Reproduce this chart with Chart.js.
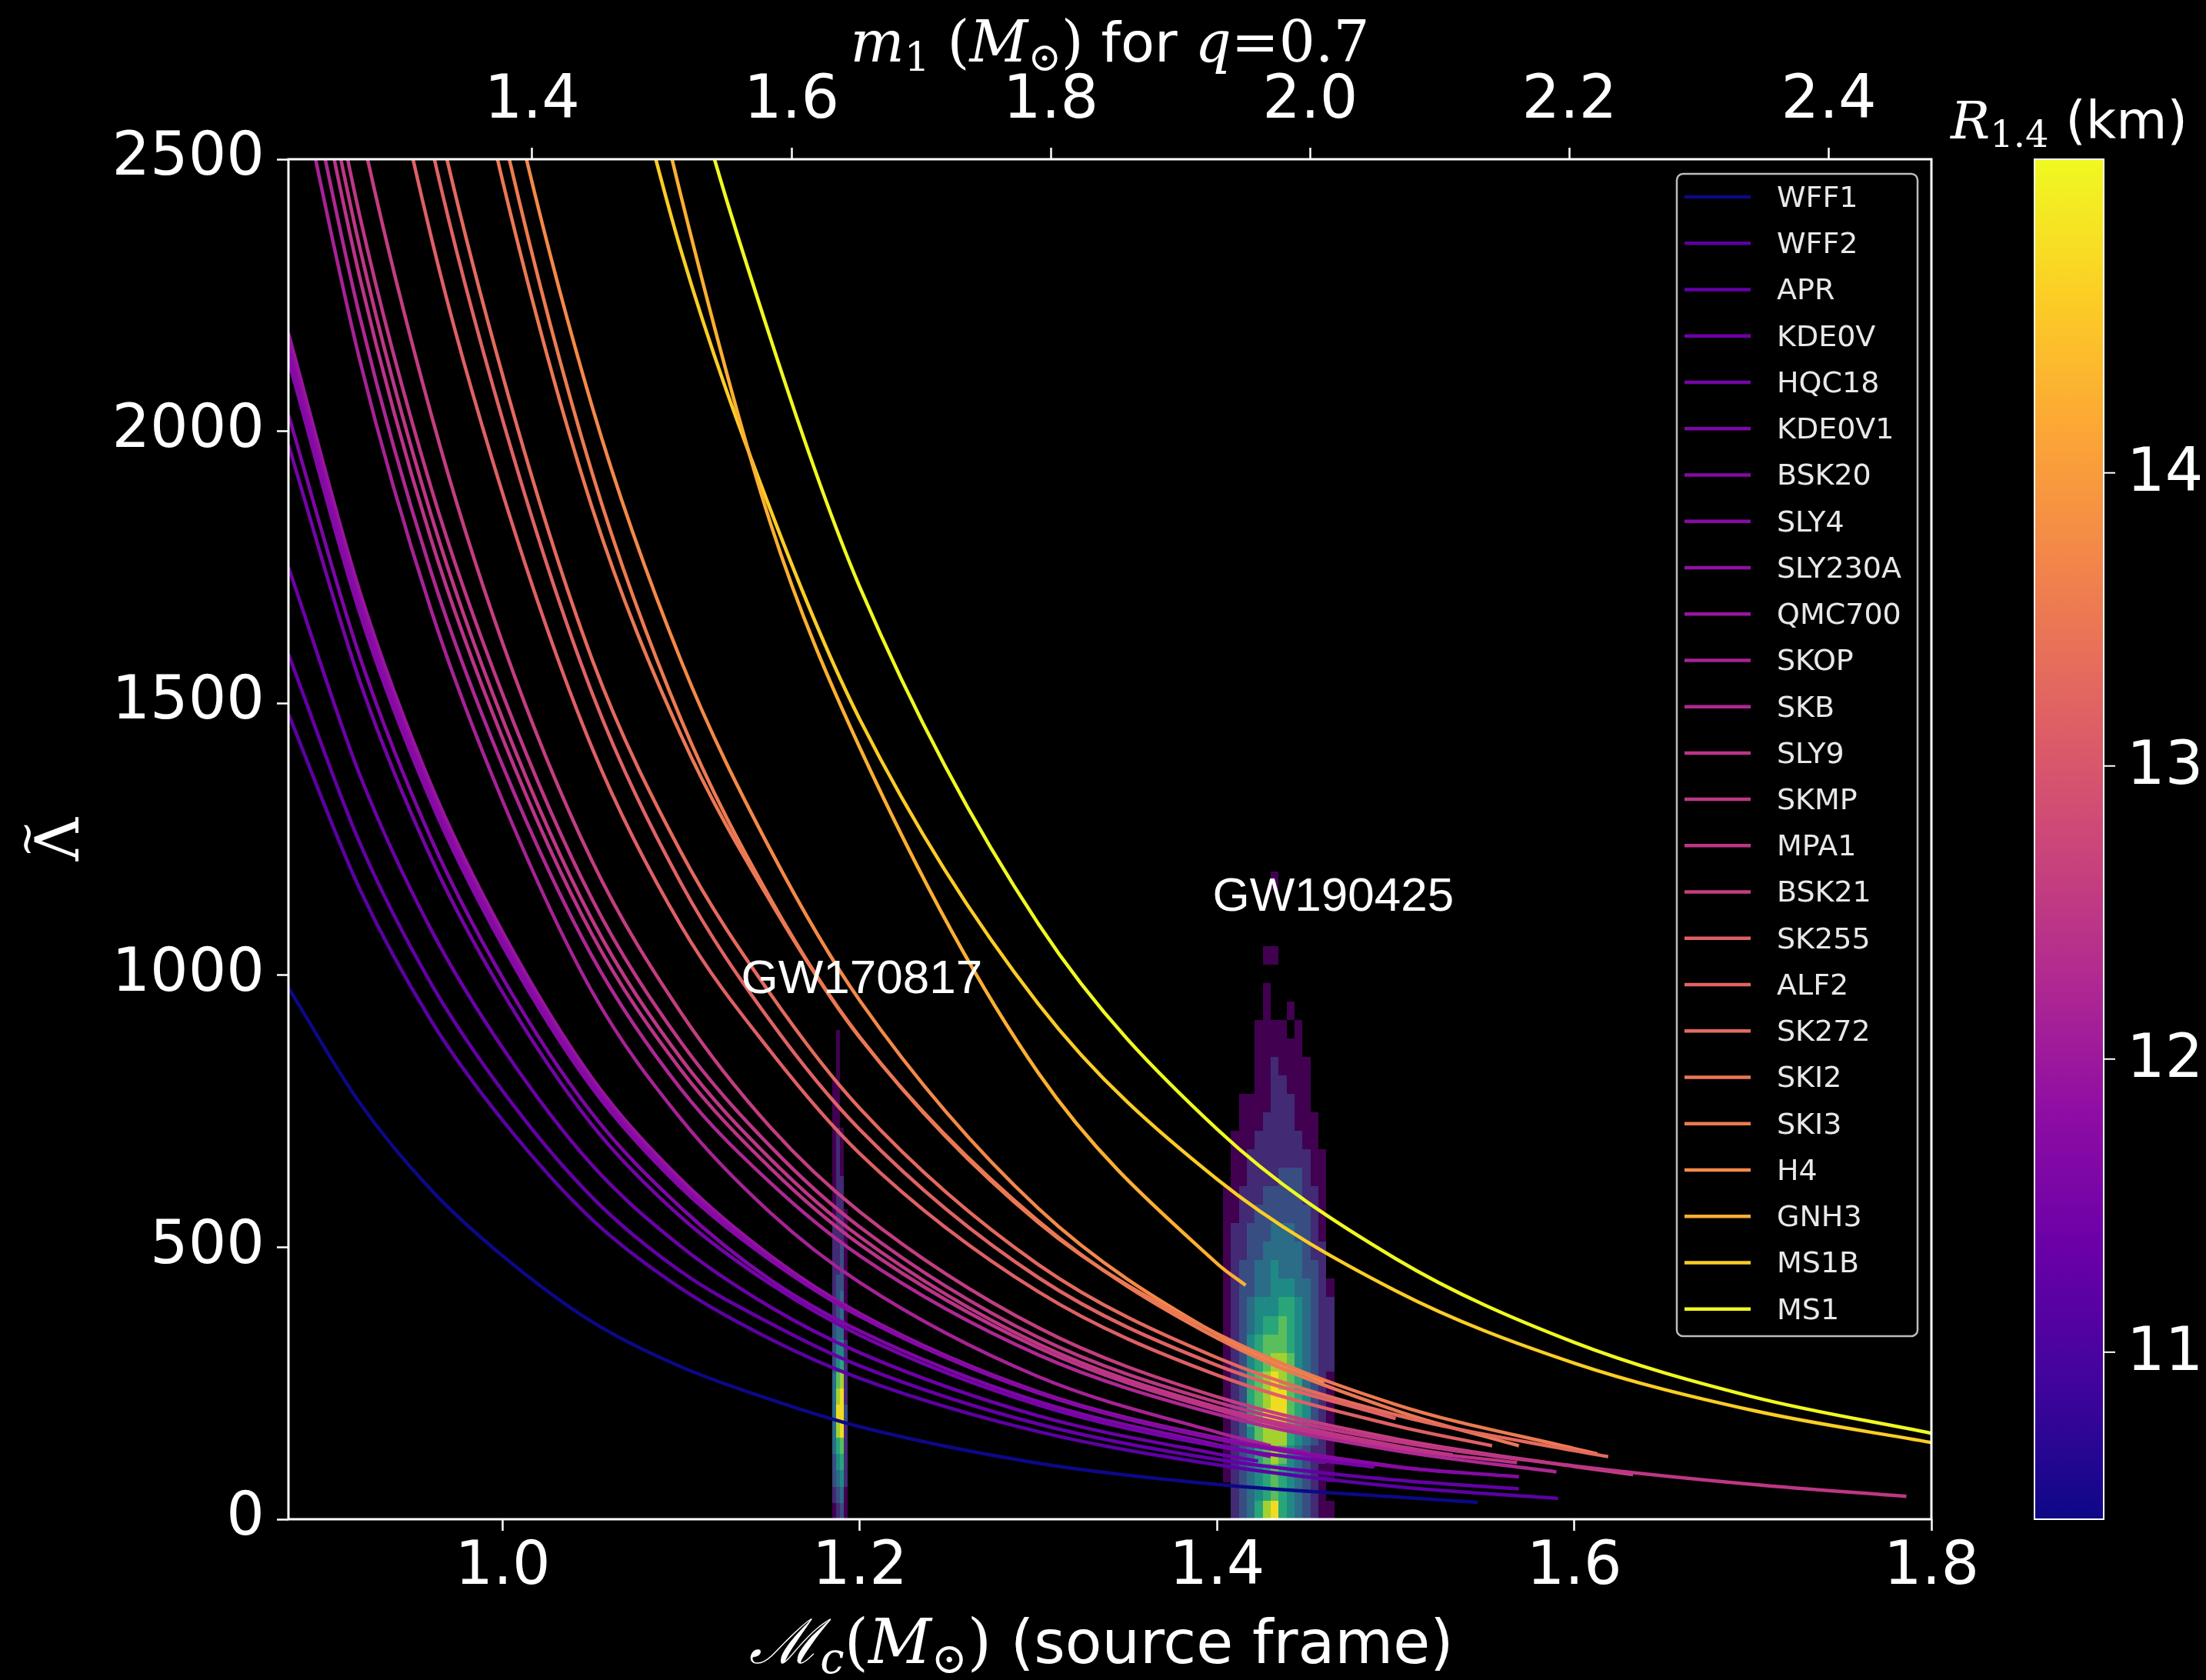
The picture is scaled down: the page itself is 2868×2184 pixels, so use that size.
<!DOCTYPE html>
<html>
<head>
<meta charset="utf-8">
<script src="https://cdn.jsdelivr.net/npm/chart.js@4.4.1/dist/chart.umd.min.js"></script>
<style>
  html, body { margin: 0; padding: 0; background: #000; }
  canvas { display: block; }
</style>
</head>
<body>
<canvas id="lambdaChart" width="2868" height="2184"></canvas>
<script>
// Tidal deformability vs chirp mass for a set of neutron-star equations of state
const eosNames = ['WFF1', 'WFF2', 'APR', 'KDE0V', 'HQC18', 'KDE0V1', 'BSK20', 'SLY4', 'SLY230A', 'QMC700',
  'SKOP', 'SKB', 'SLY9', 'SKMP', 'MPA1', 'BSK21', 'SK255', 'ALF2', 'SK272', 'SKI2', 'SKI3', 'H4',
  'GNH3', 'MS1B', 'MS1'];

// radius of a 1.4 Msun star (km), sets the line colour
const r14 = [10.43, 11.2, 11.3, 11.4, 11.5, 11.6, 11.7, 11.75, 11.85, 11.95,
  12.15, 12.25, 12.45, 12.5, 12.5, 12.6, 13.15, 13.2, 13.3, 13.5, 13.55, 13.75,
  14.25, 14.6, 15.07];

const mcGrid = [0.88, 0.92, 0.96, 1.0, 1.05, 1.1, 1.15, 1.2, 1.3, 1.4, 1.5, 1.6, 1.7, 1.8];
const n = null;
const lambdaRows = [
  [977, 765, 605, 484, 363, 280, 220, 170, 103, 64, 41, n, n, n],
  [1480, 1158, 916, 733, 551, 424, 331, 259, 161, 100, 60, n, n, n],
  [1590, 1243, 984, 787, 592, 455, 360, 282, 175, 110, 72, n, n, n],
  [1750, 1368, 1083, 866, 651, 501, 390, 306, 190, 120, n, n, n, n],
  [1975, 1540, 1215, 968, 725, 555, 432, 338, 210, 134, n, n, n, n],
  [2030, 1585, 1250, 995, 746, 572, 440, 346, 216, 137, n, n, n, n],
  [2130, 1665, 1318, 1054, 793, 609, 476, 373, 232, 148, 96, n, n, n],
  [2150, 1681, 1330, 1064, 800, 615, 478, 374, 232, 147, n, n, n, n],
  [2160, 1689, 1336, 1069, 804, 618, 481, 376, 234, 150, 97, n, n, n],
  [2180, 1705, 1349, 1079, 811, 624, 484, 378, 234, 149, n, n, n, n],
  [2737, 2130, 1670, 1320, 970, 735, 563, 435, 262, 160, n, n, n, n],
  [2826, 2210, 1740, 1385, 1035, 790, 618, 484, 302, 193, 126, n, n, n],
  [2917, 2282, 1800, 1435, 1075, 825, 645, 505, 315, 201, 131, n, n, n],
  [2988, 2337, 1845, 1470, 1102, 846, 662, 519, 322, 206, 135, n, n, n],
  [3062, 2395, 1895, 1516, 1140, 876, 685, 537, 334, 215, 143, 98, 64, n],
  [3280, 2566, 2030, 1610, 1210, 930, 720, 565, 352, 225, 148, 97, n, n],
  [3808, 2978, 2356, 1885, 1418, 1090, 860, 672, 418, 265, 172, n, n, n],
  [n, 3192, 2525, 2020, 1519, 1168, 915, 716, 444, 283, n, n, n, n],
  [n, 3321, 2628, 2102, 1581, 1225, 965, 755, 468, 297, 192, 126, n, n],
  [n, n, 3075, 2459, 1860, 1440, 1135, 885, 548, 333, 200, n, n, n],
  [n, n, 3194, 2552, 1924, 1469, 1140, 886, 545, 341, 211, 130, n, n],
  [n, n, 3367, 2690, 2046, 1577, 1230, 953, 571, 340, n, n, n, n],
  [n, n, n, n, 3150, 2430, 1830, 1418, 820, 470, n, n, n, n],
  [n, n, n, n, 2960, 2330, 1855, 1470, 947, 625, 420, 287, 200, 141],
  [n, n, n, n, 3470, 2724, 2170, 1713, 1094, 717, 479, 325, 225, 158]
];
// last point of each curve (maximum-mass end)
const mcEnd = [1.546, 1.591, 1.569, 1.423, 1.488, 1.43, 1.569, 1.488, 1.525, 1.45,
  1.43, 1.59, 1.568, 1.532, 1.786, 1.633, 1.554, 1.5, 1.619, 1.569, 1.613, 1.46,
  1.416, n, n];
const lambdaEnd = [31, 38, 56, 107, 96, 115, 78, 101, 88, 123,
  135, 87, 104, 118, 42, 82, 135, 185, 115, 135, 120, 252,
  430, n, n];

const xTicks = [1.0, 1.2, 1.4, 1.6, 1.8];
const m1Ticks = [1.4, 1.6, 1.8, 2.0, 2.2, 2.4];
const yTicks = [0, 500, 1000, 1500, 2000, 2500];
const cbarTicks = [11, 12, 13, 14];
const cbarMin = 10.43, cbarMax = 15.07;
const massRatio = 0.7;

// posterior histograms, rows listed top to bottom, digit = density level (0-9)
const gw170817McStart = 1.1845, gw170817McBin = 0.0022, gw170817LamBin = 30;
const gw170817Cells = [
  '.1..', '.1..', '.1..', '11..', '11..', '11..', '121.', '121.', '121.', '122.',
  '122.', '1221', '2221', '2231', '2231', '2331', '2341', '2341', '3441', '3552',
  '3562', '4782', '4892', '4993', '4892', '4672', '3562', '3452', '2341', '1231'
];
const gw190425McStart = 1.4033, gw190425McBin = 0.00445, gw190425LamBin = 34;
const gw190425Cells = [
  '......1........', '...............', '...............', '...............', '.....11........',
  '...............', '.....1.........', '.....1..1......', '....1111.1.....', '....111111.....',
  '....1121111....', '....1122111....', '..111122211....', '..1112222111...', '.11122222211...',
  '.112222222211..', '.112222333211..', '1122233333221..', '1122333333321..', '1223334443321..',
  '1223344444322..', '1233445444332..', '12334455544321.', '12345556654322.', '12345667654322.',
  '12356777654322.', '12356788754322.', '12367898764321.', '12367899765321.', '12367999765321.',
  '12357888654321.', '12346787543221.', '12345676543211.', '.234567654321..', '.2346896543211.'
];

const PLASMA = ['#0d0887', '#41049d', '#6a00a8', '#8f0da4', '#b12a90', '#cc4778',
  '#e16462', '#f2844b', '#fca636', '#fcce25', '#f0f921'];
const VIRIDIS = ['#440154', '#482475', '#414487', '#355f8d', '#2a788e', '#21918c',
  '#22a884', '#44bf70', '#7ad151', '#bddf26', '#fde725'];

function hexRgb(h) {
  return [parseInt(h.slice(1, 3), 16), parseInt(h.slice(3, 5), 16), parseInt(h.slice(5, 7), 16)];
}

function sampleMap(stops, t, alpha) {
  t = Math.min(1, Math.max(0, t));
  const f = t * (stops.length - 1);
  const i = Math.min(stops.length - 2, Math.floor(f));
  const a = hexRgb(stops[i]);
  const b = hexRgb(stops[i + 1]);
  const k = f - i;
  const c = a.map((v, j) => Math.round(v + (b[j] - v) * k));
  return alpha == null ? `rgb(${c[0]},${c[1]},${c[2]})` : `rgba(${c[0]},${c[1]},${c[2]},${alpha})`;
}

const eosColor = r => sampleMap(PLASMA, (r - cbarMin) / (cbarMax - cbarMin));

// chirp mass -> primary mass for a fixed mass ratio
const mcPerM1 = Math.pow(massRatio, 0.6) / Math.pow(1 + massRatio, 0.2);

const datasets = eosNames.map((name, i) => {
  const pts = [];
  mcGrid.forEach((mc, j) => {
    const v = lambdaRows[i][j];
    if (v != null) pts.push({ x: mc, y: v });
  });
  if (mcEnd[i] != null) pts.push({ x: mcEnd[i], y: lambdaEnd[i] });
  return {
    label: name,
    data: pts,
    borderColor: eosColor(r14[i]),
    borderWidth: 4.5,
    pointRadius: 0,
    fill: false,
    cubicInterpolationMode: 'monotone'
  };
});

function drawCells(chart, cells, mc0, dMc, dLam) {
  const { ctx, scales: { x, y } } = chart;
  const nRows = cells.length;
  cells.forEach((row, r) => {
    const lamTop = (nRows - r) * dLam;
    const yTop = Math.round(y.getPixelForValue(lamTop));
    const yBot = Math.round(y.getPixelForValue(lamTop - dLam));
    for (let c = 0; c < row.length; c++) {
      const lvl = row.charCodeAt(c) - 48;
      if (!(lvl >= 1 && lvl <= 9)) continue;
      const xl = Math.round(x.getPixelForValue(mc0 + c * dMc));
      const xr = Math.round(x.getPixelForValue(mc0 + (c + 1) * dMc));
      ctx.fillStyle = sampleMap(VIRIDIS, (lvl - 1) / 8, 0.95);
      ctx.fillRect(xl, yTop, xr - xl, yBot - yTop);
    }
  });
}

// sequential text runs (math italics, subscripts) on one baseline
function drawRuns(ctx, runs, x, y, align) {
  let total = 0;
  runs.forEach(p => { ctx.font = p.font; p.w = ctx.measureText(p.t).width; total += p.w; });
  let cx = align === 'center' ? x - total / 2 : x;
  runs.forEach(p => {
    ctx.font = p.font;
    ctx.fillText(p.t, cx, y + (p.dy || 0));
    cx += p.w;
  });
}

const SERIF = '"DejaVu Serif"';
const SANS = '"DejaVu Sans"';

const decor = {
  id: 'decor',
  beforeDraw(chart) {
    const { ctx, width, height } = chart;
    ctx.save();
    ctx.fillStyle = '#000';
    ctx.fillRect(0, 0, width, height);
    ctx.restore();
  },
  beforeDatasetsDraw(chart) {
    const { ctx, chartArea: a } = chart;
    ctx.save();
    ctx.beginPath();
    ctx.rect(a.left, a.top, a.right - a.left, a.bottom - a.top);
    ctx.clip();
    drawCells(chart, gw170817Cells, gw170817McStart, gw170817McBin, gw170817LamBin);
    drawCells(chart, gw190425Cells, gw190425McStart, gw190425McBin, gw190425LamBin);
    ctx.restore();
  },
  afterDatasetsDraw(chart) {
    const { ctx, chartArea: a, scales: { x, y } } = chart;
    ctx.save();
    // event labels
    ctx.fillStyle = '#fff';
    ctx.font = '62px "Liberation Sans"';
    ctx.textBaseline = 'alphabetic';
    ctx.textAlign = 'left';
    ctx.fillText('GW170817', x.getPixelForValue(1.1335), y.getPixelForValue(967));
    ctx.fillText('GW190425', x.getPixelForValue(1.3975), y.getPixelForValue(1119));

    // axes frame
    ctx.strokeStyle = '#fff';
    ctx.lineWidth = 3;
    ctx.strokeRect(a.left, a.top, a.right - a.left, a.bottom - a.top);

    // legend
    const lx = 2180, ly = 226, lw = 313, lh = 1511;
    ctx.fillStyle = 'rgba(0,0,0,0.8)';
    ctx.strokeStyle = '#bdbdbd';
    ctx.lineWidth = 2.5;
    ctx.beginPath();
    ctx.roundRect(lx, ly, lw, lh, 8);
    ctx.fill();
    ctx.stroke();
    ctx.font = `38px ${SANS}`;
    ctx.textBaseline = 'middle';
    chart.data.datasets.forEach((ds, i) => {
      const yy = 256 + i * 60.24;
      ctx.strokeStyle = ds.borderColor;
      ctx.lineWidth = 4.5;
      ctx.beginPath();
      ctx.moveTo(2190, yy);
      ctx.lineTo(2276, yy);
      ctx.stroke();
      ctx.fillStyle = '#e8e8e8';
      ctx.fillText(ds.label, 2310, yy + 3);
    });
    ctx.restore();
  },
  afterDraw(chart) {
    const { ctx, chartArea: a } = chart;
    ctx.save();
    // colour bar
    const cx0 = 2645, cx1 = 2735;
    const grad = ctx.createLinearGradient(0, a.bottom, 0, a.top);
    PLASMA.forEach((c, i) => grad.addColorStop(i / (PLASMA.length - 1), c));
    ctx.fillStyle = grad;
    ctx.fillRect(cx0, a.top, cx1 - cx0, a.bottom - a.top);
    ctx.strokeStyle = '#fff';
    ctx.lineWidth = 2;
    ctx.strokeRect(cx0, a.top, cx1 - cx0, a.bottom - a.top);
    ctx.fillStyle = '#fff';
    ctx.font = `78px ${SANS}`;
    ctx.textAlign = 'left';
    ctx.textBaseline = 'middle';
    cbarTicks.forEach(v => {
      const yy = a.bottom - (v - cbarMin) / (cbarMax - cbarMin) * (a.bottom - a.top);
      ctx.beginPath();
      ctx.moveTo(cx1, yy);
      ctx.lineTo(cx1 + 15, yy);
      ctx.stroke();
      ctx.fillText(String(v), cx1 + 30, yy + 3);
    });

    ctx.textBaseline = 'alphabetic';
    ctx.textAlign = 'left';
    // colour bar title
    drawRuns(ctx, [
      { t: 'R', font: `italic 68px ${SERIF}` },
      { t: '1.4', font: `48px ${SERIF}`, dy: 11 },
      { t: ' (km)', font: `68px ${SANS}` }
    ], 2690, 180, 'center');

    // bottom axis title
    drawRuns(ctx, [
      { t: '\u2133', font: `italic 80px ${SERIF}` },
      { t: 'c', font: `italic 56px ${SERIF}`, dy: 13 },
      { t: '(', font: `80px ${SERIF}` },
      { t: 'M', font: `italic 80px ${SERIF}` },
      { t: '\u2299', font: `56px ${SERIF}`, dy: 13 },
      { t: ')', font: `80px ${SERIF}` },
      { t: ' (source frame)', font: `78px ${SANS}` }
    ], 1432, 2162, 'center');

    // top axis title
    drawRuns(ctx, [
      { t: 'm', font: `italic 74px ${SERIF}` },
      { t: '1', font: `52px ${SERIF}`, dy: 12 },
      { t: ' ', font: `72px ${SANS}` },
      { t: '(', font: `74px ${SERIF}` },
      { t: 'M', font: `italic 74px ${SERIF}` },
      { t: '\u2299', font: `52px ${SERIF}`, dy: 12 },
      { t: ')', font: `74px ${SERIF}` },
      { t: ' for ', font: `72px ${SANS}` },
      { t: 'q', font: `italic 74px ${SERIF}` },
      { t: '=0.7', font: `74px ${SERIF}` }
    ], 1443, 80, 'center');

    // vertical axis title: Lambda with a tilde over it
    ctx.translate(102, 1091);
    ctx.rotate(-Math.PI / 2);
    ctx.textAlign = 'center';
    ctx.font = `78px ${SERIF}`;
    ctx.fillText('\u039B', 0, 0);
    ctx.font = `58px ${SERIF}`;
    ctx.fillText('~', 0, -48);
    ctx.restore();
  }
};

const tickGrid = {
  display: true,
  drawOnChartArea: false,
  drawTicks: true,
  tickLength: 15,
  tickWidth: 2.5,
  tickColor: '#fff',
  color: 'rgba(0,0,0,0)'
};

new Chart(document.getElementById('lambdaChart'), {
  type: 'line',
  data: { datasets },
  options: {
    responsive: false,
    devicePixelRatio: 1,
    animation: false,
    events: [],
    layout: { padding: { left: 0, right: 357, top: 0, bottom: 0 } },
    plugins: { legend: { display: false }, tooltip: { enabled: false } },
    scales: {
      x: {
        type: 'linear',
        position: 'bottom',
        min: 0.88,
        max: 1.8,
        grid: tickGrid,
        border: { display: false },
        afterBuildTicks: s => { s.ticks = xTicks.map(v => ({ value: v })); },
        afterFit: s => { s.height = 209; },
        ticks: {
          color: '#fff',
          padding: 2,
          maxRotation: 0,
          font: { family: 'DejaVu Sans', size: 78 },
          callback: v => Number(v).toFixed(1)
        }
      },
      x2: {
        type: 'linear',
        axis: 'x',
        position: 'top',
        min: 0.88 / mcPerM1,
        max: 1.8 / mcPerM1,
        grid: tickGrid,
        border: { display: false },
        afterBuildTicks: s => { s.ticks = m1Ticks.map(v => ({ value: v })); },
        afterFit: s => { s.height = 207; },
        ticks: {
          color: '#fff',
          padding: 12,
          maxRotation: 0,
          font: { family: 'DejaVu Sans', size: 78 },
          callback: v => Number(v).toFixed(1)
        }
      },
      y: {
        type: 'linear',
        position: 'left',
        min: 0,
        max: 2500,
        grid: tickGrid,
        border: { display: false },
        afterBuildTicks: s => { s.ticks = yTicks.map(v => ({ value: v })); },
        afterFit: s => { s.width = 375; },
        ticks: {
          color: '#fff',
          padding: 16,
          font: { family: 'DejaVu Sans', size: 78 },
          callback: v => String(v)
        }
      }
    }
  },
  plugins: [decor]
});
</script>
</body>
</html>
